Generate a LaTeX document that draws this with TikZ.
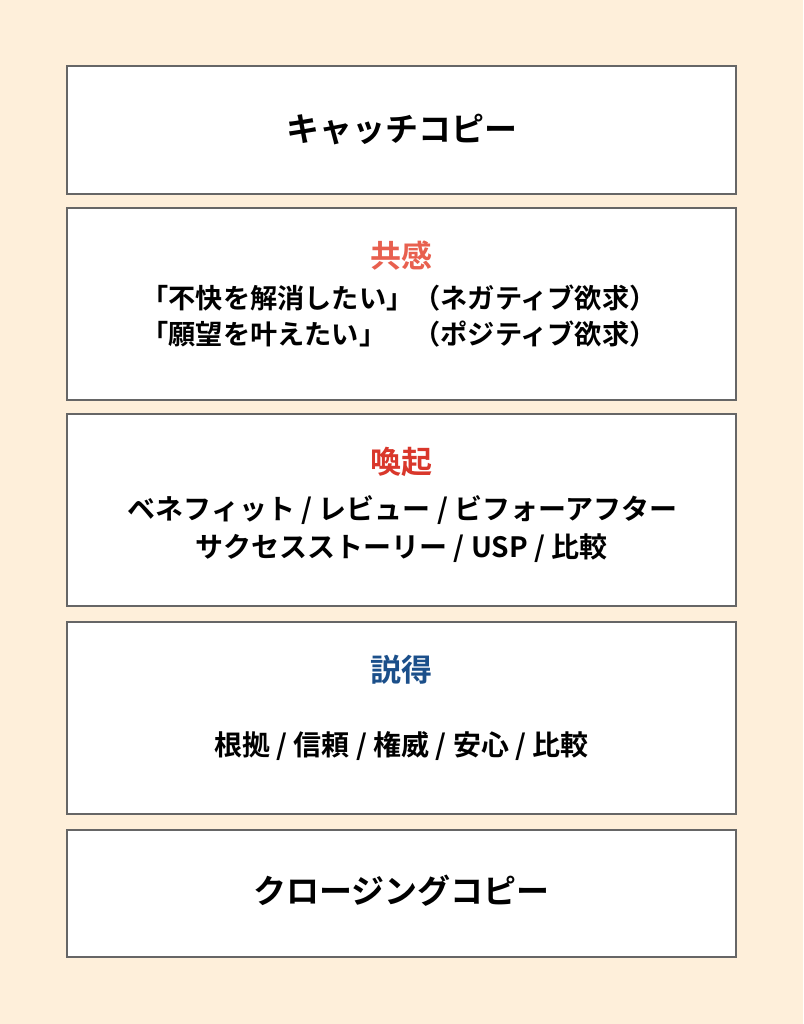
\documentclass[tikz,border=0pt]{standalone}
\usepackage{fontspec}
\setmainfont{Noto Sans CJK JP}[BoldFont={* Bold}]
\newfontfamily\jpb{Noto Sans CJK JP Bold}
\definecolor{bgc}{HTML}{FEEFDA}
\definecolor{edgec}{HTML}{666666}
\definecolor{empc}{HTML}{E8604F}
\definecolor{evoc}{HTML}{D9372B}
\definecolor{perc}{HTML}{1B4F8A}
\tikzset{
  box/.style={draw=edgec, line width=1.2pt, fill=white, minimum width=669pt, inner sep=0pt},
  ttl/.style={font=\jpb\fontsize{33}{40}\selectfont, inner sep=0pt},
  hdg/.style={font=\jpb\fontsize{31}{38}\selectfont, inner sep=0pt},
  bdy/.style={font=\jpb\fontsize{28}{34}\selectfont, inner sep=0pt, text=black},
  bdys/.style={font=\jpb\fontsize{27.2}{34}\selectfont, inner sep=0pt, text=black},
}
\begin{document}
\begin{tikzpicture}[x=1pt,y=-1pt]
\useasboundingbox (0,0) rectangle (803,1024);
\fill[bgc] (0,0) rectangle (803,1024);
\node[box, minimum height=128pt] (b1) at (401.5,130) {};
\node[box, minimum height=192pt] (b2) at (401.5,304) {};
\node[box, minimum height=192pt] (b3) at (401.5,510) {};
\node[box, minimum height=192pt] (b4) at (401.5,718) {};
\node[box, minimum height=127pt] (b5) at (401.5,893.5) {};
\node[ttl] (t1) at (401.5,130) {キャッチコピー};
\node[hdg, text=empc] (h2) at (401.5,256) {共感};
\node[bdys] (l21) at (399,298) {「不快を解消したい」（ネガティブ欲求）};
\node[bdys] (l22) at (399,334) {「願望を叶えたい」　（ポジティブ欲求）};
\node[hdg, text=evoc] (h3) at (401.5,462) {喚起};
\node[bdy] (l31) at (402.5,510) {ベネフィット / レビュー / ビフォーアフター};
\node[bdy] (l32) at (401.5,548) {サクセスストーリー / USP / 比較};
\node[hdg, text=perc] (h4) at (401.5,670) {説得};
\node[bdy] (l41) at (401.5,746) {根拠 / 信頼 / 権威 / 安心 / 比較};
\node[ttl] (t5) at (401.5,891) {クロージングコピー};
\end{tikzpicture}
\end{document}
